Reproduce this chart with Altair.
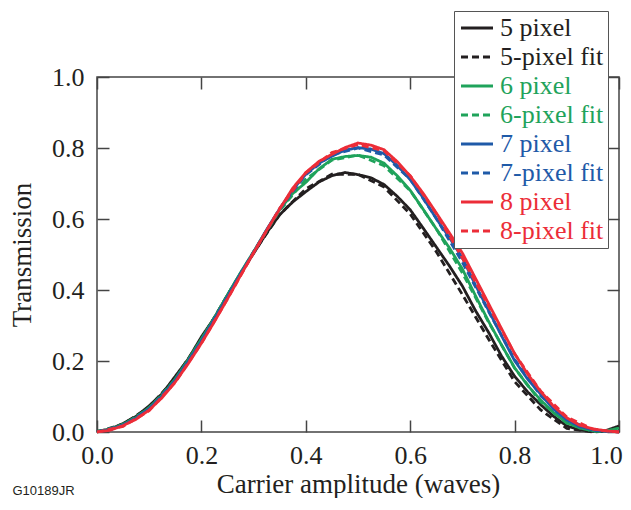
import altair as alt
import pandas as pd

# ---- data ----
x_data = [0.0, 0.025, 0.05, 0.075, 0.1, 0.125, 0.15, 0.175, 0.2, 0.225, 0.25, 0.275,
          0.3, 0.325, 0.35, 0.375, 0.4, 0.425, 0.45, 0.475, 0.5, 0.525, 0.55, 0.575,
          0.6, 0.625, 0.65, 0.675, 0.7, 0.725, 0.75, 0.775, 0.8, 0.825, 0.85, 0.875,
          0.9, 0.925, 0.95, 0.975, 1.0]
x_fit = [0.0, 0.05, 0.1, 0.15, 0.2, 0.25, 0.3, 0.35, 0.4, 0.45, 0.5, 0.55, 0.6, 0.65,
         0.7, 0.75, 0.8, 0.85, 0.9, 0.95, 1.0]

px5 = [0.002, 0.008, 0.024, 0.044, 0.074, 0.108, 0.157, 0.206, 0.268, 0.322, 0.386, 0.447,
       0.503, 0.561, 0.612, 0.648, 0.677, 0.704, 0.722, 0.731, 0.725, 0.716, 0.697, 0.664,
       0.626, 0.574, 0.521, 0.468, 0.411, 0.342, 0.281, 0.214, 0.157, 0.113, 0.077, 0.044,
       0.017, 0.006, 0.002, 0.004, 0.017]
fit5 = [0.0, 0.022, 0.07, 0.152, 0.262, 0.385, 0.505, 0.613, 0.685, 0.726, 0.726, 0.69,
        0.614, 0.508, 0.387, 0.262, 0.142, 0.062, 0.01, 0.0, 0.004]
px6 = [0.002, 0.007, 0.022, 0.041, 0.069, 0.104, 0.150, 0.204, 0.262, 0.322, 0.386, 0.449,
       0.508, 0.569, 0.626, 0.672, 0.703, 0.741, 0.768, 0.776, 0.779, 0.774, 0.757, 0.722,
       0.681, 0.627, 0.572, 0.519, 0.459, 0.384, 0.312, 0.245, 0.181, 0.131, 0.090, 0.054,
       0.026, 0.011, 0.004, 0.003, 0.011]
fit6 = [0.0, 0.02, 0.067, 0.148, 0.26, 0.385, 0.508, 0.624, 0.712, 0.766, 0.78, 0.75,
        0.68, 0.572, 0.448, 0.31, 0.18, 0.085, 0.025, 0.002, 0.002]
px7 = [0.001, 0.006, 0.020, 0.039, 0.066, 0.101, 0.146, 0.199, 0.256, 0.318, 0.381, 0.446,
       0.506, 0.570, 0.629, 0.683, 0.726, 0.757, 0.777, 0.794, 0.801, 0.797, 0.784, 0.751,
       0.711, 0.659, 0.601, 0.548, 0.490, 0.414, 0.343, 0.271, 0.201, 0.149, 0.106, 0.064,
       0.034, 0.015, 0.006, 0.002, 0.001]
fit7 = [0.0, 0.018, 0.064, 0.145, 0.256, 0.381, 0.507, 0.628, 0.725, 0.781, 0.8, 0.78,
        0.712, 0.602, 0.478, 0.34, 0.205, 0.102, 0.035, 0.005, 0.0]
px8 = [0.000, 0.005, 0.018, 0.036, 0.062, 0.097, 0.141, 0.193, 0.250, 0.311, 0.375, 0.441,
       0.505, 0.568, 0.628, 0.687, 0.731, 0.762, 0.782, 0.801, 0.814, 0.808, 0.795, 0.762,
       0.721, 0.672, 0.617, 0.561, 0.504, 0.433, 0.362, 0.291, 0.221, 0.163, 0.114, 0.072,
       0.040, 0.019, 0.009, 0.003, 0.000]
fit8 = [0.0, 0.016, 0.06, 0.14, 0.25, 0.375, 0.505, 0.63, 0.73, 0.787, 0.81, 0.792,
        0.722, 0.615, 0.49, 0.355, 0.22, 0.115, 0.042, 0.008, 0.0]

series_names = ["5 pixel", "5-pixel fit", "6 pixel", "6-pixel fit",
                "7 pixel", "7-pixel fit", "8 pixel", "8-pixel fit"]
series_colors = ["#231f20", "#231f20", "#1fa35b", "#1fa35b",
                 "#1f5aa8", "#1f5aa8", "#ec2d38", "#ec2d38"]
series_dash = [[1, 0], [7, 4], [1, 0], [7, 4], [1, 0], [7, 4], [1, 0], [7, 4]]
tick_values = [0.0, 0.2, 0.4, 0.6, 0.8, 1.0]

rows = []
for name, xs, ys in [("5 pixel", x_data, px5), ("5-pixel fit", x_fit, fit5),
                     ("6 pixel", x_data, px6), ("6-pixel fit", x_fit, fit6),
                     ("7 pixel", x_data, px7), ("7-pixel fit", x_fit, fit7),
                     ("8 pixel", x_data, px8), ("8-pixel fit", x_fit, fit8)]:
    for i, (xv, yv) in enumerate(zip(xs, ys)):
        rows.append({"series": name, "x": xv, "y": yv, "order": i})
df = pd.DataFrame(rows)

W, H = 522, 355
FONT = "Liberation Serif"
FS = 26
FS_T = 27

xscale = alt.Scale(domain=[0, 1], nice=False, zero=False)
yscale = alt.Scale(domain=[0, 1], nice=False, zero=False)

label_color_expr = (
    "indexof(datum.label, '5') === 0 ? '#231f20' : "
    "indexof(datum.label, '6') === 0 ? '#1fa35b' : "
    "indexof(datum.label, '7') === 0 ? '#1f5aa8' : '#ec2d38'"
)

legend = alt.Legend(
    title=None, orient="none", legendX=357, legendY=-66,
    fillColor="white", strokeColor="#555555", padding=4,
    labelFont=FONT, labelFontSize=FS, labelColor={"expr": label_color_expr},
    symbolType="M-1,0H2.2", symbolSize=400, symbolStrokeWidth=2.8,
    labelOffset=16, rowPadding=3, labelLimit=300,
)

base = alt.Chart(df)

lines = base.mark_line(strokeWidth=2.8).encode(
    x=alt.X("x:Q", scale=xscale,
            axis=alt.Axis(title="Carrier amplitude (waves)", values=tick_values, format=".1f",
                          ticks=False, tickSize=0, domain=False, grid=False, labelFlush=False,
                          labelOffset={"expr": "datum.value >= 1 ? -13 : 0"},
                          labelPadding=10, titlePadding=3,
                          labelFont=FONT, labelFontSize=FS, titleFont=FONT,
                          titleFontSize=FS_T, titleFontWeight="normal",
                          labelColor="#231f20", titleColor="#231f20")),
    y=alt.Y("y:Q", scale=yscale,
            axis=alt.Axis(title="Transmission", values=tick_values, format=".1f",
                          ticks=False, tickSize=0, domain=False, grid=False, labelFlush=False,
                          labelPadding=13, titlePadding=15,
                          labelFont=FONT, labelFontSize=FS, titleFont=FONT,
                          titleFontSize=FS_T, titleFontWeight="normal",
                          labelColor="#231f20", titleColor="#231f20")),
    color=alt.Color("series:N", scale=alt.Scale(domain=series_names, range=series_colors),
                    legend=legend),
    strokeDash=alt.StrokeDash("series:N", scale=alt.Scale(domain=series_names, range=series_dash),
                              legend=legend),
    order="order:Q",
)

def tick_axis(orient, offset):
    return alt.Axis(orient=orient, offset=offset, values=tick_values, labels=False,
                    title=None, domain=False, grid=False, ticks=True, tickSize=12,
                    tickColor="#444444", tickWidth=1.5)

ticks_a = base.mark_line(opacity=0).encode(
    x=alt.X("x:Q", scale=xscale, axis=tick_axis("top", -H)),
    y=alt.Y("y:Q", scale=yscale, axis=tick_axis("right", -W)),
    detail="series:N",
)
ticks_b = base.mark_line(opacity=0).encode(
    x=alt.X("x:Q", scale=xscale, axis=tick_axis("bottom", -H)),
    y=alt.Y("y:Q", scale=yscale, axis=tick_axis("left", -W)),
    detail="series:N",
)

chart = alt.layer(lines, ticks_a, ticks_b).resolve_axis(
    x="independent", y="independent"
).properties(
    width=W, height=H,
    title=alt.TitleParams("G10189JR", orient="bottom", anchor="start", frame="bounds",
                          font="Liberation Sans", fontSize=13, fontWeight="normal",
                          color="#231f20", offset=-12, dx=4),
    autosize=alt.AutoSizeParams(type="none"),
    padding={"left": 89, "top": 69, "right": 4, "bottom": 66},
).configure_view(
    stroke="#444444", strokeWidth=1.5
)

chart.save("out.html", embed_options={"renderer": "svg", "actions": False})
